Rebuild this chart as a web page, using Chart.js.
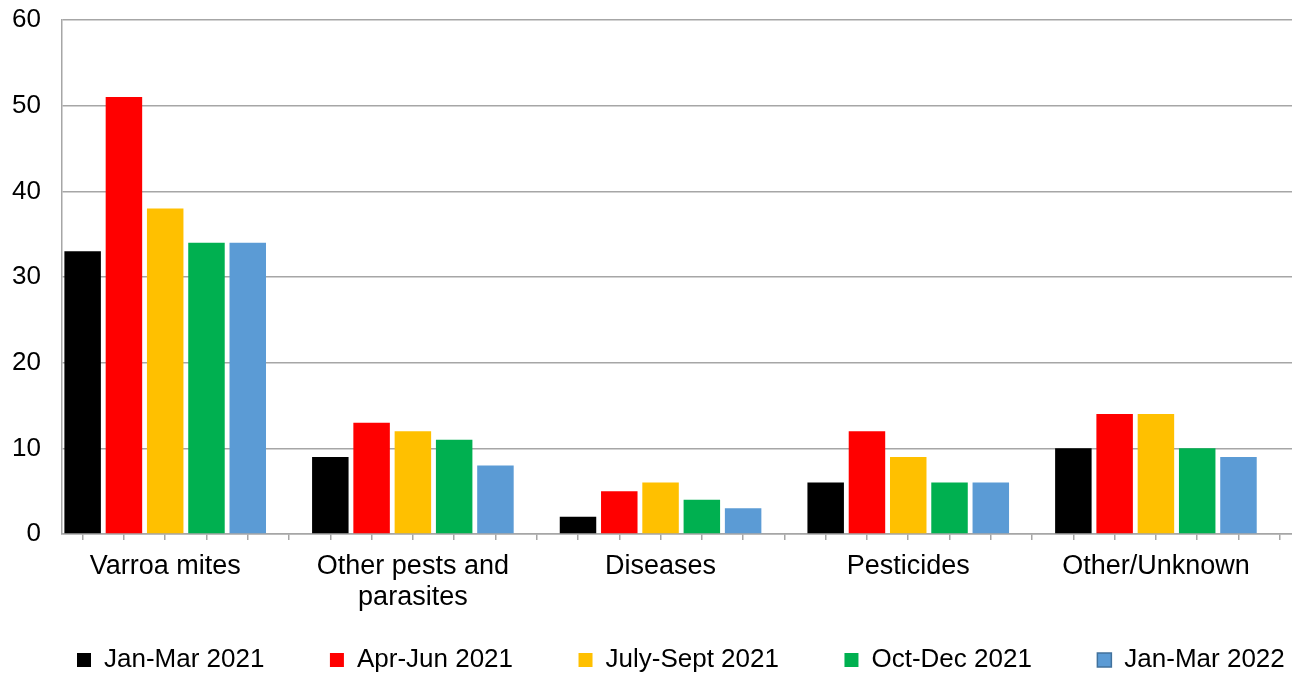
<!DOCTYPE html>
<html>
<head>
<meta charset="utf-8">
<script src="https://cdn.jsdelivr.net/npm/chart.js@4"></script>
<style>
  html, body { margin: 0; padding: 0; overflow: hidden; background: #fff; }
  #wrap { width: 1400px; height: 683px; }
</style>
</head>
<body>
<div id="wrap"><canvas id="myChart"></canvas></div>
<script>
// categories (multi-line where the picture wraps)
const categories = ['Varroa mites', ['Other pests and', 'parasites'], 'Diseases', 'Pesticides', 'Other/Unknown']
const seriesNames = ['Jan-Mar 2021', 'Apr-Jun 2021', 'July-Sept 2021', 'Oct-Dec 2021', 'Jan-Mar 2022']
const janMar2021 = [33, 9, 2, 6, 10]
const aprJun2021 = [51, 13, 5, 12, 14]
const julySept2021 = [38, 12, 6, 9, 14]
const octDec2021 = [34, 11, 4, 6, 10]
const janMar2022 = [34, 8, 3, 6, 9]
const yTicks = [0, 10, 20, 30, 40, 50, 60]

const seriesValues = [janMar2021, aprJun2021, julySept2021, octDec2021, janMar2022]
const colors = ['#000000', '#ff0000', '#ffc000', '#00b050', '#5b9bd5']
const borders = ['#000000', '#ff0000', '#ffc000', '#00b050', '#41719c']

// every group is 5 bar slots + 1 empty slot
const slotsPerGroup = 6
let slotLabels = []
for (let g = 0; g < categories.length; g++) {
  for (let s = 0; s < slotsPerGroup; s++) {
    slotLabels.push(s == 2 ? categories[g] : '')
  }
}

let datasets = []
for (let i = 0; i < seriesValues.length; i++) {
  let d = slotLabels.map(() => null)
  for (let g = 0; g < categories.length; g++) {
    d[g * slotsPerGroup + i] = seriesValues[i][g]
  }
  datasets.push({
    label: seriesNames[i],
    data: d,
    backgroundColor: colors[i],
    borderColor: colors[i],
    borderWidth: 0,
    skipNull: true,
    categoryPercentage: 1,
    barPercentage: 0.884
  })
}

const font = { family: '"Liberation Sans", Arial, sans-serif', size: 26, lineHeight: 1.2 }
const catFont = { family: '"Liberation Sans", Arial, sans-serif', size: 27, lineHeight: 1.15 }
const gridGray = '#a6a6a6'

const config = {
  type: 'bar',
  data: { labels: slotLabels, datasets: datasets },
  options: {
    responsive: true,
    maintainAspectRatio: false,
    animation: false,
    layout: { padding: { top: 20, left: 11.5, right: 0, bottom: 0 } },
    plugins: {
      tooltip: { enabled: false },
      legend: {
        position: 'bottom',
        align: 'start',
        labels: {
          color: '#000',
          font: font,
          boxWidth: 14,
          boxHeight: 14,
          padding: 65.5,
          generateLabels: function (chart) {
            return chart.data.datasets.map((ds, i) => ({
              text: ds.label,
              fillStyle: colors[i],
              strokeStyle: borders[i],
              lineWidth: i == 4 ? 1.5 : 0,
              fontColor: '#000',
              hidden: false,
              datasetIndex: i
            }))
          }
        }
      }
    },
    scales: {
      x: {
        grid: { offset: false, drawOnChartArea: false, drawTicks: true, tickLength: 6, color: gridGray, lineWidth: 1.5 },
        border: { color: gridGray, width: 1.5 },
        ticks: {
          autoSkip: false,
          maxRotation: 0,
          // mirror keeps the 2-line label from being clipped by the short axis box
          mirror: true,
          padding: -48.4,
          color: '#000',
          font: catFont
        },
        afterFit: function (s) { s.height = 47.5 }
      },
      y: {
        min: 0,
        max: 60,
        afterBuildTicks: function (s) { s.ticks = yTicks.map(v => ({ value: v })) },
        grid: { color: gridGray, lineWidth: 1.5, drawTicks: false },
        border: { color: gridGray, width: 1.5 },
        ticks: { padding: 21, color: '#000', font: font },
        afterFit: function (s) {
          s.width = 50.5
          s.paddingTop = 0
          s.paddingBottom = 0
        }
      },
      // empty spacer so the plot runs past the right edge like the picture
      yr: {
        type: 'linear',
        position: 'right',
        grid: { display: false, drawTicks: false },
        border: { display: false },
        ticks: { display: false },
        afterFit: function (s) { s.width = 99.6 }
      }
    }
  }
}

const myChart = new Chart(document.getElementById('myChart'), config)
</script>
</body>
</html>
